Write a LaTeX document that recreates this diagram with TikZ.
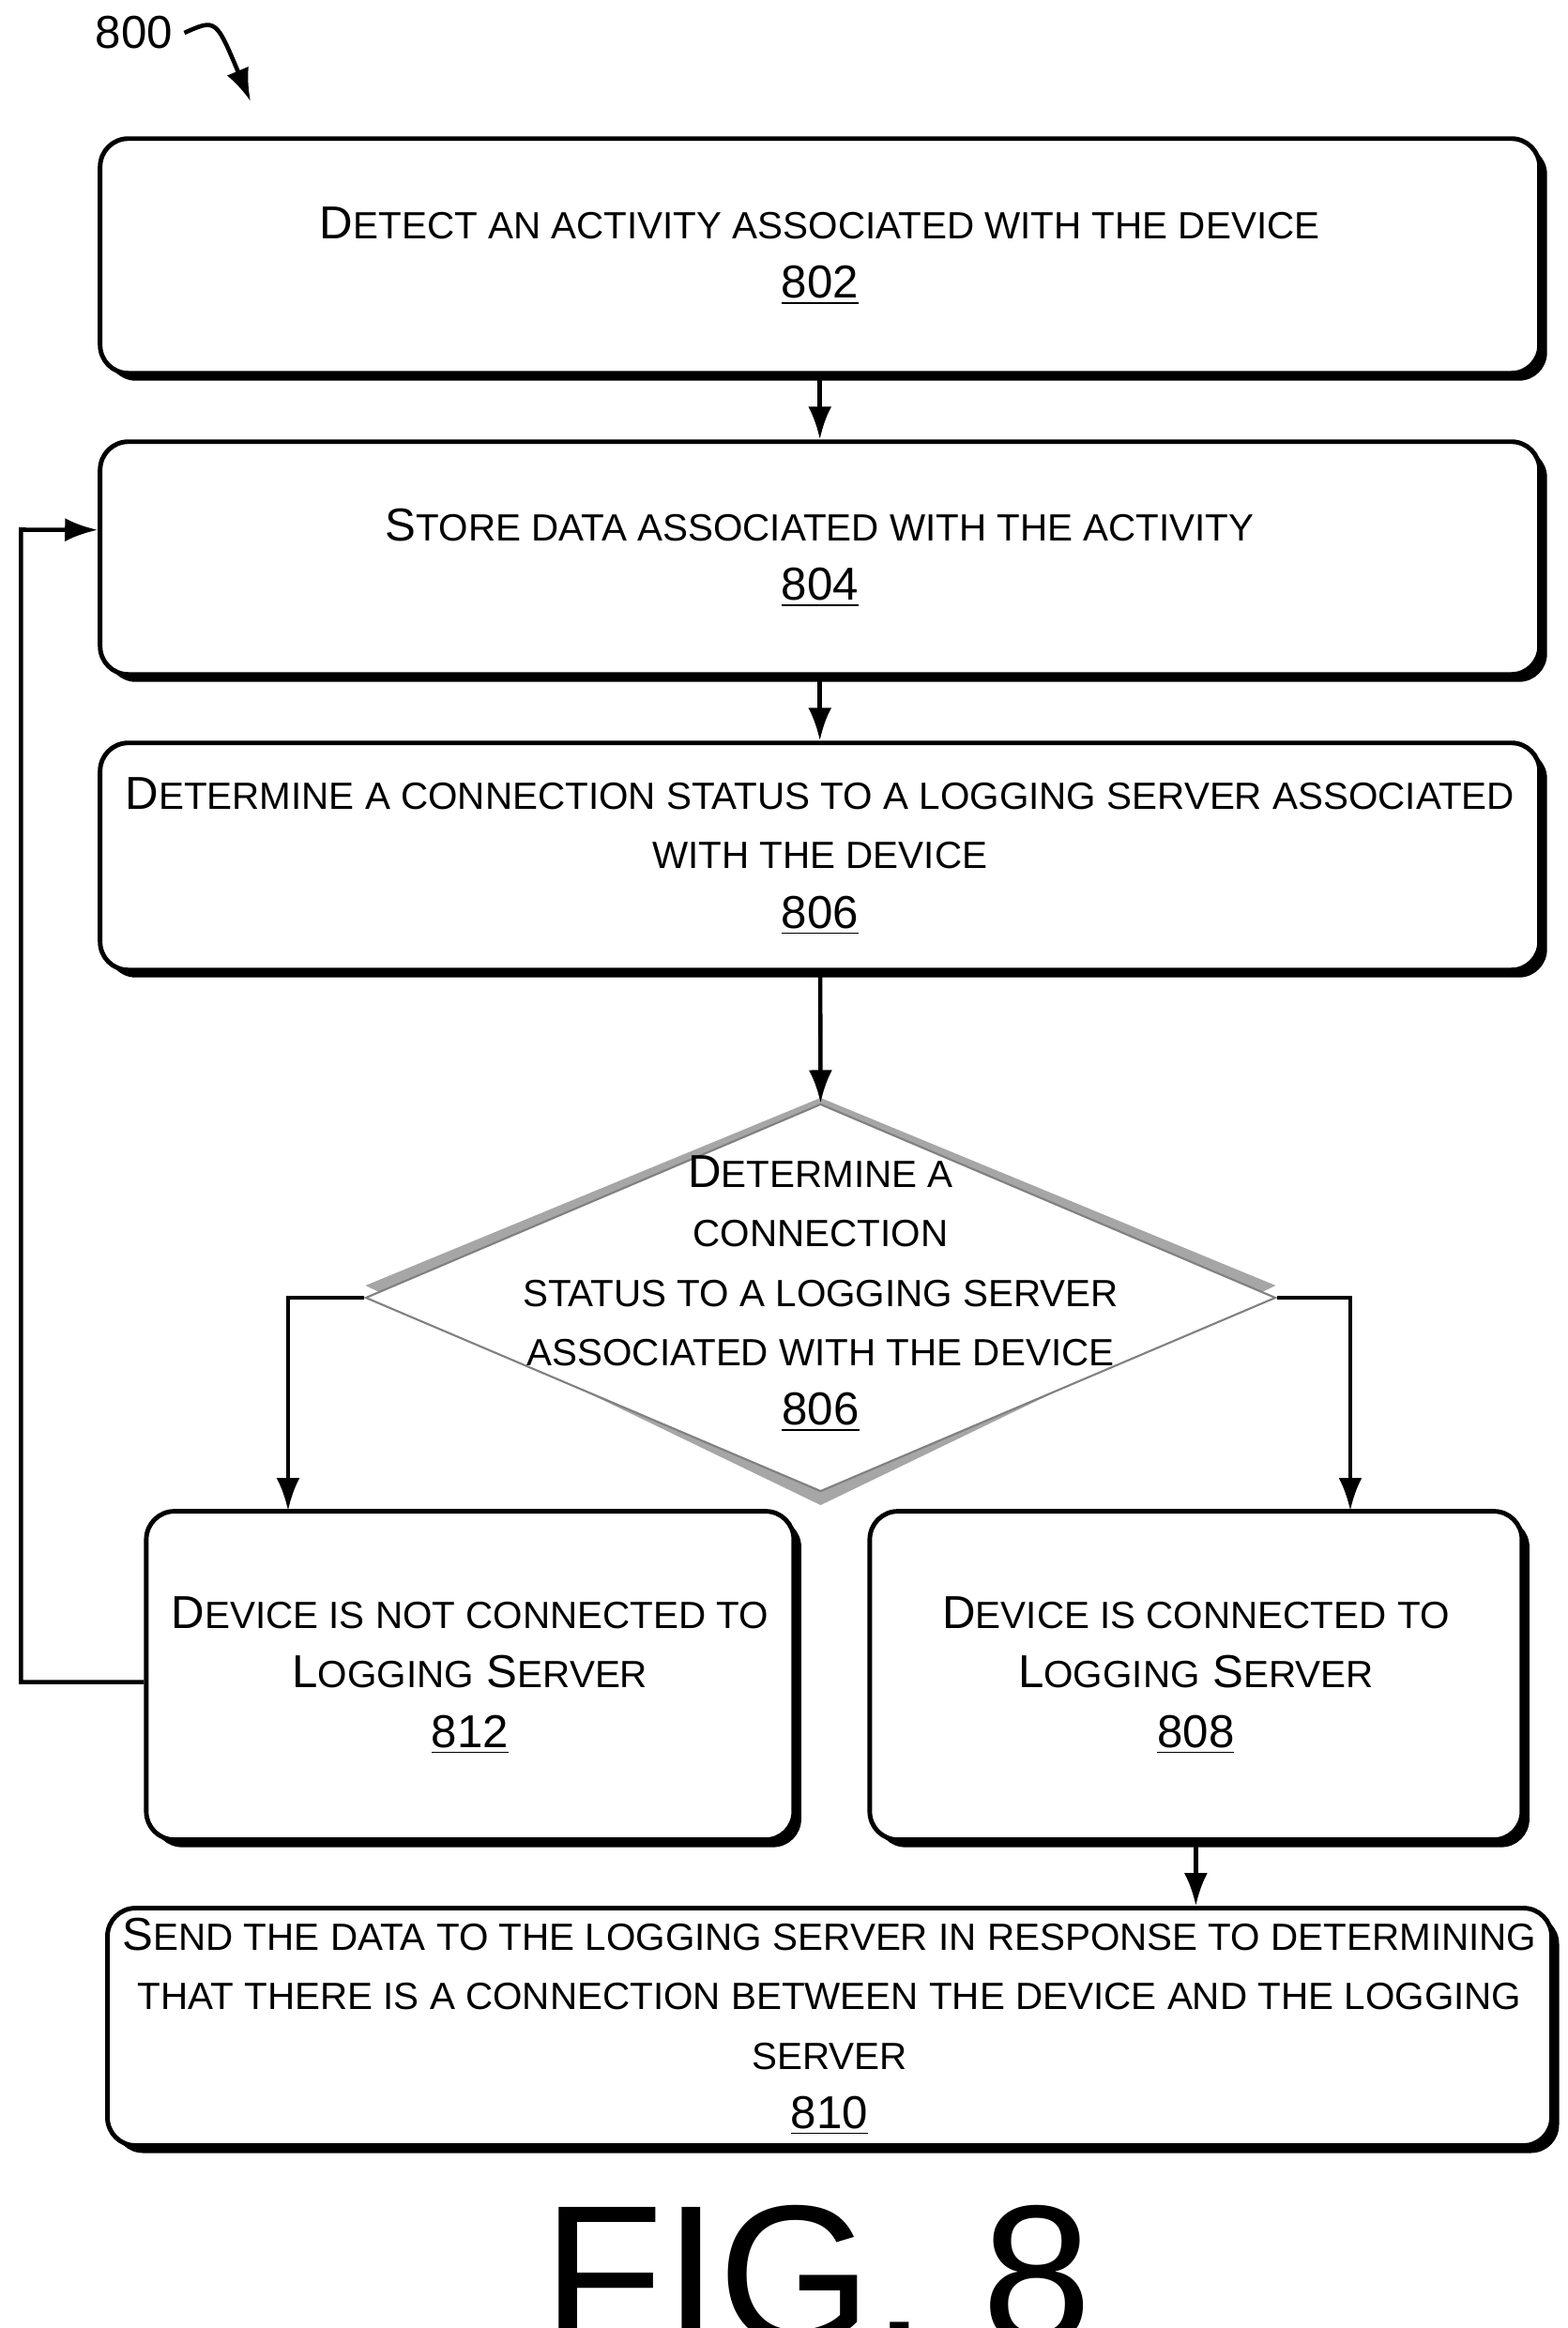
\documentclass[tikz,border=0pt]{standalone}
\usepackage{fontspec}
\setmainfont{Liberation Sans}
\usetikzlibrary{shapes.geometric,arrows.meta}
\newcommand{\lc}[1]{{\fontsize{11.5}{16}\selectfont #1}}
\newcommand{\rnum}[1]{\underline{#1}}
\tikzset{
  flowbox/.style={
    rectangle,rounded corners=0.3cm,draw,line width=1.4pt,fill=white,
    align=center,font=\fontsize{14}{18}\selectfont,inner sep=0pt
  },
  boxshadow/.style={fill=black,rounded corners=0.3cm},
  flow/.style={-{Latex[length=3.5mm,width=2.5mm]},line width=1.3pt}
}
\begin{document}
\begin{tikzpicture}
  \useasboundingbox (0,0) rectangle (16.7,-24.81);

  % shadows
  \foreach \cx/\cy/\w/\h in {8.737/-2.727/15.34/2.50, 8.737/-5.947/15.34/2.48,
      8.737/-9.127/15.34/2.42, 5.009/-17.856/6.90/3.50,
      12.744/-17.856/6.95/3.50, 8.84/-21.60/15.39/2.53}
    \fill[boxshadow] (\cx-\w/2+0.08,\cy-\h/2-0.08) rectangle (\cx+\w/2+0.08,\cy+\h/2-0.08);
  \fill[gray!70] (3.895,-13.70) -- (8.745,-11.70) -- (13.595,-13.70) -- (8.745,-16.04) -- cycle;

  % the steps
  \node[flowbox,minimum width=15.34cm,minimum height=2.50cm] (n802) at (8.737,-2.727)
    {D\lc{ETECT AN ACTIVITY ASSOCIATED WITH THE DEVICE}\\\rnum{802}};
  \node[flowbox,minimum width=15.34cm,minimum height=2.48cm] (n804) at (8.737,-5.947)
    {S\lc{TORE DATA ASSOCIATED WITH THE ACTIVITY}\\\rnum{804}};
  \node[flowbox,minimum width=15.34cm,minimum height=2.42cm] (n806) at (8.737,-9.127)
    {D\lc{ETERMINE A CONNECTION STATUS TO A LOGGING SERVER ASSOCIATED}\\\lc{WITH THE DEVICE}\\\rnum{806}};
  \node[diamond,draw=gray,line width=0.6pt,fill=white,inner sep=0pt,aspect=2.35,
        minimum width=9.7cm,minimum height=4.13cm] (dec) at (8.745,-13.83) {};
  \node[align=center,font=\fontsize{14}{18}\selectfont] (dectext) at (8.745,-13.79)
    {D\lc{ETERMINE A}\\\lc{CONNECTION}\\\lc{STATUS TO A LOGGING SERVER}\\\lc{ASSOCIATED WITH THE DEVICE}\\\rnum{806}};
  \node[flowbox,minimum width=6.90cm,minimum height=3.50cm] (n812) at (5.009,-17.856)
    {D\lc{EVICE IS NOT CONNECTED TO}\\L\lc{OGGING} S\lc{ERVER}\\\rnum{812}};
  \node[flowbox,minimum width=6.95cm,minimum height=3.50cm] (n808) at (12.744,-17.856)
    {D\lc{EVICE IS CONNECTED TO}\\L\lc{OGGING} S\lc{ERVER}\\\rnum{808}};
  \node[flowbox,minimum width=15.39cm,minimum height=2.53cm] (n810) at (8.84,-21.60)
    {S\lc{END THE DATA TO THE LOGGING SERVER IN RESPONSE TO DETERMINING}\\
     \lc{THAT THERE IS A CONNECTION BETWEEN THE DEVICE AND THE LOGGING}\\
     \lc{SERVER}\\\rnum{810}};

  % labels
  \node[font=\fontsize{14}{16}\selectfont] (lbl) at (1.43,-0.35) {800};
  \node[font=\fontsize{60}{60}\selectfont] (fig) at (8.713,-24.25) {FIG. 8};
  \coordinate (lblend) at (2.67,-1.08);
  \draw[flow] (lbl.east) .. controls (2.3,-0.2) .. (lblend);

  % connectors
  \draw[flow] (n802) -- (n804);
  \draw[flow] (n804) -- (n806);
  \draw[flow] (n806) -- (dec.north);
  \draw[flow] (dec.west) -| (3.07,-16.10);
  \draw[flow] (dec.east) -| (14.39,-16.10);
  \draw[flow] (n808.south) -- (n808.south |- n810.north);
  \draw[flow] ([yshift=-0.07cm]n812.west) -| (0.223,-5.645) -- ([yshift=0.30cm]n804.west);
\end{tikzpicture}
\end{document}
